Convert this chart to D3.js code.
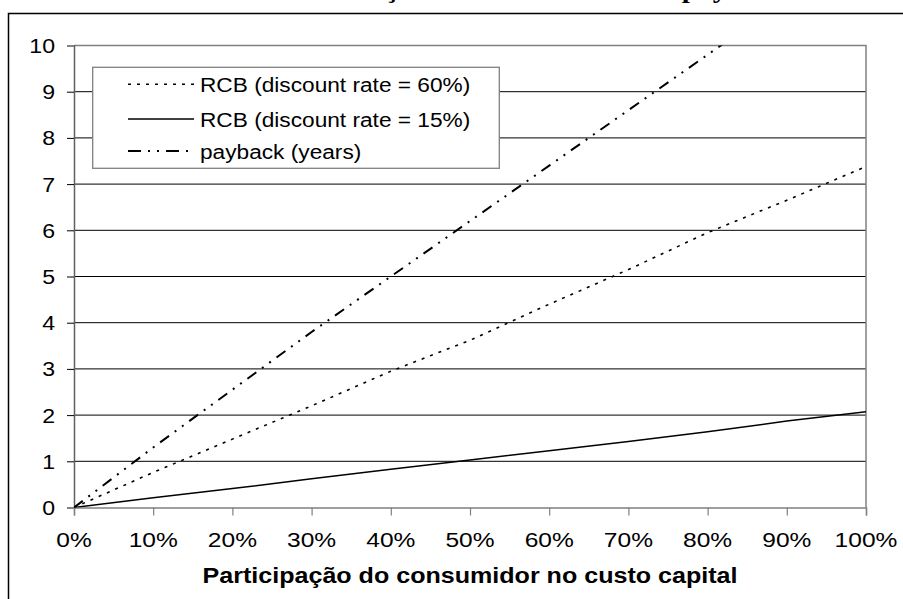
<!DOCTYPE html>
<html>
<head>
<meta charset="utf-8">
<script src="https://cdn.jsdelivr.net/npm/d3@7"></script>
<style>
  html, body { margin: 0; padding: 0; background: #fff; }
  svg { display: block; }
</style>
</head>
<body>
<svg id="chart" width="903" height="599"></svg>
<script>
// ---- data ----
const shares = [0, 0.1, 0.2, 0.3, 0.4, 0.5, 0.6, 0.7, 0.8, 0.9, 1.0];
const rcb60 = [0, 0.76, 1.48, 2.2, 2.95, 3.62, 4.4, 5.15, 5.95, 6.65, 7.38];
const rcb15 = [0, 0.21, 0.41, 0.62, 0.83, 1.03, 1.23, 1.43, 1.64, 1.87, 2.07];
const payback = [0, 1.3, 2.55, 3.8, 5.0, 6.2, 7.4, 8.6, 9.8, 11.0, 12.2];
const yTicks = [0, 1, 2, 3, 4, 5, 6, 7, 8, 9, 10];
const xTicks = [0, 0.1, 0.2, 0.3, 0.4, 0.5, 0.6, 0.7, 0.8, 0.9, 1.0];
const seriesNames = ["RCB (discount rate = 60%)", "RCB (discount rate = 15%)", "payback (years)"];
const xTitle = "Participação do consumidor no custo capital";
const topTitle = "Variação da RCB e do payback";

const svg = d3.select("#chart");
const L = 74, R = 866, T = 45.5, B = 507.5;
const x = d3.scaleLinear().domain([0, 1]).range([L, R]);
const y = d3.scaleLinear().domain([0, 10]).range([B, T]);

function stext(g, str, tx, ty, opts) {
  return g.append("text")
    .attr("transform", `translate(${tx},${ty}) scale(${opts.sx || 1},1)`)
    .attr("text-anchor", opts.anchor || "start")
    .attr("font-family", opts.family || "'Liberation Sans', Arial, sans-serif")
    .attr("font-size", opts.size)
    .attr("font-weight", opts.weight || "normal")
    .attr("word-spacing", opts.ws || null)
    .attr("fill", "#000")
    .text(str);
}

// partially visible page title (cut off at top, only descenders show)
stext(svg, topTitle, 316, -2, {family: "'Liberation Serif', 'Times New Roman', serif", size: 25, weight: "bold", sx: 1.17, ws: 14});

// outer frame
svg.append("rect").attr("x", 8.5).attr("y", 13.5).attr("width", 1000).attr("height", 1000)
  .attr("fill", "none").attr("stroke", "#000").attr("stroke-width", 1.5);

// gridlines
svg.append("g").selectAll("line").data(yTicks.filter(v => v > 0 && v < 10)).join("line")
  .attr("x1", L).attr("x2", R).attr("y1", d => y(d)).attr("y2", d => y(d))
  .attr("stroke", "#000").attr("stroke-width", 1);

// plot border (top, right)
svg.append("path").attr("d", `M${L},${T}H${R}V${B}`)
  .attr("fill", "none").attr("stroke", "#808080").attr("stroke-width", 1.5);

// y axis
const yAxis = svg.append("g").attr("transform", `translate(${L},0)`)
  .call(d3.axisLeft(y).tickValues(yTicks).tickSize(7).tickFormat(""));
yAxis.select(".domain").attr("stroke", "#606060").attr("stroke-width", 1.5);
yAxis.selectAll(".tick line").attr("stroke", (d) => d === 10 || d === 0 ? "#808080" : "#000");
yTicks.forEach(v => stext(svg, String(v), 55, y(v) + 7.5, {size: 21, sx: 1.1, anchor: "end"}));

// x axis
const xAxis = svg.append("g").attr("transform", `translate(0,${B})`)
  .call(d3.axisBottom(x).tickValues(xTicks).tickSize(8).tickFormat(""));
xAxis.select(".domain").attr("stroke", "#808080").attr("stroke-width", 1.5);
xAxis.selectAll(".tick line").attr("stroke", "#808080").attr("stroke-width", 1.2);
xTicks.forEach(v => stext(svg, d3.format(".0%")(v), x(v), 546.5, {size: 21, sx: 1.17, anchor: "middle"}));

// axis title
stext(svg, xTitle, (L + R) / 2, 583, {size: 22, weight: "bold", sx: 1.14, anchor: "middle"});

// clip
svg.append("clipPath").attr("id", "plotclip").append("rect")
  .attr("x", L).attr("y", T).attr("width", R - L).attr("height", B - T);

const line = d3.line().x((d, i) => x(shares[i])).y(d => y(d));
const styles = [
  {data: rcb60, dash: "3,6", w: 1.6},
  {data: rcb15, dash: null, w: 1.5},
  {data: payback, dash: "11,7,2,7,2,7", w: 2}
];
const lines = svg.append("g").attr("clip-path", "url(#plotclip)");
styles.forEach(s => {
  lines.append("path").datum(s.data).attr("d", line)
    .attr("fill", "none").attr("stroke", "#000").attr("stroke-width", s.w)
    .attr("stroke-dasharray", s.dash);
});

// legend
const lg = svg.append("g");
lg.append("rect").attr("x", 92.7).attr("y", 67.3).attr("width", 406.6).attr("height", 101)
  .attr("fill", "#fff").attr("stroke", "#808080").attr("stroke-width", 1.3);
const rowsY = [84.3, 119, 151];
const legendDash = ["3,6", null, "13,7,2,7,2,7"];
seriesNames.forEach((n, i) => {
  lg.append("line").attr("x1", 128).attr("x2", 194).attr("y1", rowsY[i]).attr("y2", rowsY[i])
    .attr("stroke", "#000").attr("stroke-width", styles[i].w).attr("stroke-dasharray", legendDash[i]);
  stext(lg, n, 200, rowsY[i] + 7.5, {size: 20, sx: 1.134});
});
</script>
</body>
</html>
